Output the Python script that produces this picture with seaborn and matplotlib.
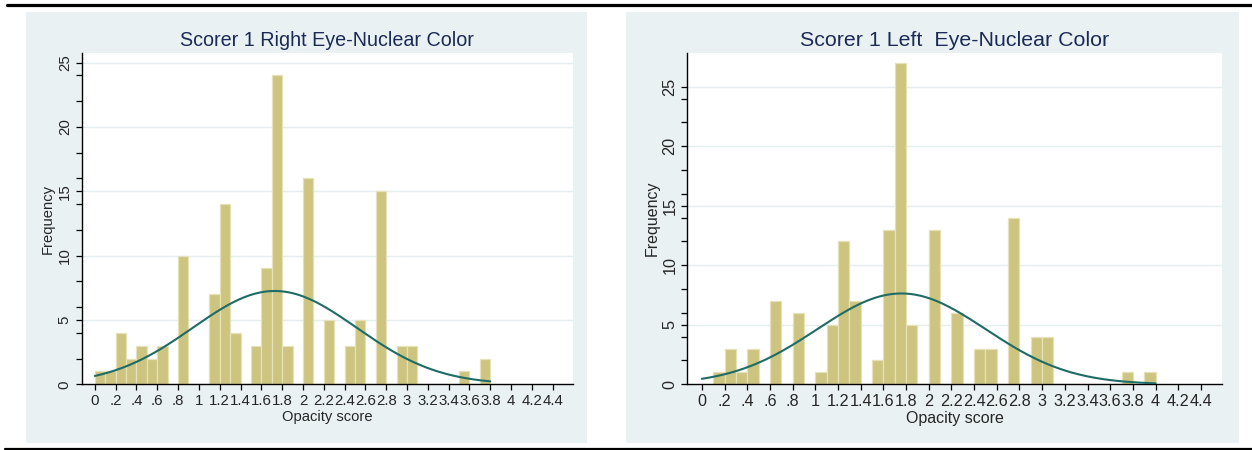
import numpy as np
import pandas as pd
import matplotlib
matplotlib.use("Agg")
import matplotlib.pyplot as plt
import seaborn as sns
from matplotlib.patches import Rectangle
from matplotlib.lines import Line2D
from matplotlib.ticker import FixedLocator

# ---------------- data ----------------
bin_width = 0.1

left_title = "Scorer 1 Right Eye-Nuclear Color"
left_starts = [0.0, 0.1, 0.2, 0.3, 0.4, 0.5, 0.6, 0.8, 1.1, 1.2, 1.3, 1.5, 1.6, 1.7,
               1.8, 2.0, 2.2, 2.4, 2.5, 2.7, 2.9, 3.0, 3.5, 3.7]
left_counts = [1, 1, 4, 2, 3, 2, 3, 10, 7, 14, 4, 3, 9, 24,
               3, 16, 5, 3, 5, 15, 3, 3, 1, 2]
left_range = (0.0, 3.8)

right_title = "Scorer 1 Left  Eye-Nuclear Color"
right_starts = [0.1, 0.2, 0.3, 0.4, 0.6, 0.8, 1.0, 1.1, 1.2, 1.3, 1.5, 1.6, 1.7,
                1.8, 2.0, 2.2, 2.4, 2.5, 2.7, 2.9, 3.0, 3.7, 3.9]
right_counts = [1, 3, 1, 3, 7, 6, 1, 5, 12, 7, 2, 13, 27,
                5, 13, 6, 3, 3, 14, 4, 4, 1, 1]
right_range = (0.0, 4.0)

xtick_values = [0, 0.2, 0.4, 0.6, 0.8, 1, 1.2, 1.4, 1.6, 1.8, 2, 2.2, 2.4, 2.6,
                2.8, 3, 3.2, 3.4, 3.6, 3.8, 4, 4.2, 4.4]
xtick_labels = ["0", ".2", ".4", ".6", ".8", "1", "1.2", "1.4", "1.6", "1.8", "2",
                "2.2", "2.4", "2.6", "2.8", "3", "3.2", "3.4", "3.6", "3.8", "4",
                "4.2", "4.4"]
ytick_values = [0, 5, 10, 15, 20, 25]
yminor_values = [2, 4, 6, 8, 12, 14, 16, 18, 22, 24]

x_label = "Opacity score"
y_label = "Frequency"

# ---------------- style ----------------
sns.set_style("white")
plt.rcParams["font.family"] = ["Liberation Sans", "DejaVu Sans"]

W, H = 1252, 450
fig = plt.figure(figsize=(W / 100, H / 100), dpi=100)
fig.patch.set_facecolor("white")

panel_bg = "#EAF1F3"
bar_color = "#CCC47F"
bar_edge = "#E6E1B8"
curve_color = "#1F6B66"
title_color = "#1C2A57"


def fx(px):
    return px / W


def fy(py):
    return 1 - py / H


# panel backgrounds
for (x0, x1) in [(26, 587), (626, 1238.5)]:
    fig.patches.append(Rectangle((fx(x0), fy(443)), fx(x1 - x0), (443 - 11.7) / H,
                                 transform=fig.transFigure, facecolor=panel_bg,
                                 edgecolor="none", zorder=-10))
# black rules
fig.add_artist(Line2D([fx(7), 1.0], [fy(5.3), fy(5.3)], color="black", lw=2.3,
                      transform=fig.transFigure))
fig.add_artist(Line2D([fx(5), 1.0], [fy(449), fy(449)], color="black", lw=1.6,
                      transform=fig.transFigure))

panels = [
    dict(title=left_title, starts=left_starts, counts=left_counts, rng=left_range,
         box=(81.5, 572.5), ylim=25.77, scale=1.0),
    dict(title=right_title, starts=right_starts, counts=right_counts, rng=right_range,
         box=(687.3, 1222.5), ylim=27.85, scale=1.087),
]

top_px, bot_px = 52.7, 384.3
for p in panels:
    x0, x1 = p["box"]
    ax = fig.add_axes([fx(x0), fy(bot_px), fx(x1 - x0), (bot_px - top_px) / H])
    ax.set_zorder(1)
    ax.set_facecolor("white")
    s = p["scale"]

    starts = np.array(p["starts"])
    counts = np.array(p["counts"])
    df = pd.DataFrame({"x": starts + bin_width / 2, "n": counts})
    lo, hi = p["rng"]

    # grid lines
    for v in ytick_values[1:]:
        ax.axhline(v, color="#E4EDEF", lw=1.0, zorder=0)

    sns.histplot(data=df, x="x", weights="n", binwidth=bin_width, binrange=(lo, hi),
                 ax=ax, stat="count", color=bar_color, edgecolor=bar_edge,
                 linewidth=0.9, alpha=1.0, zorder=2)

    # normal density overlay (fitted from the histogram)
    n_tot = counts.sum()
    mu = np.sum(df["x"] * df["n"]) / n_tot
    sd = np.sqrt(np.sum(df["n"] * (df["x"] - mu) ** 2) / (n_tot - 1))
    xs = np.linspace(lo, hi, 300)
    ys = n_tot * bin_width * np.exp(-0.5 * ((xs - mu) / sd) ** 2) / (sd * np.sqrt(2 * np.pi))
    sns.lineplot(x=xs, y=ys, ax=ax, color=curve_color, lw=1.5, zorder=3)

    ax.set_xlim(-0.128, 4.59)
    ax.set_ylim(0, p["ylim"])
    ax.set_xticks(xtick_values)
    ax.set_xticklabels(xtick_labels, fontsize=10.8 * s)
    ax.set_yticks(ytick_values)
    ax.set_yticklabels([str(v) for v in ytick_values], fontsize=10.8 * s,
                       rotation=90, va="center")
    ax.yaxis.set_minor_locator(FixedLocator(yminor_values))
    ax.tick_params(axis="both", which="both", direction="out", length=4.5, width=0.9,
                   color="black", left=True, bottom=True, pad=2.5)
    for side in ["top", "right"]:
        ax.spines[side].set_visible(False)
    for side in ["left", "bottom"]:
        ax.spines[side].set_visible(True)
        ax.spines[side].set_color("black")
        ax.spines[side].set_linewidth(1.0)
    ax.grid(False)

    ax.set_xlabel(x_label, fontsize=10.6 * s, labelpad=1.5)
    ax.set_ylabel(y_label, fontsize=10.6 * s, labelpad=2)
    ax.text(0.5, (bot_px - 40) / (bot_px - top_px), p["title"], transform=ax.transAxes,
            ha="center", va="center", fontsize=14.2 * s, color=title_color)

fig.savefig("out.png", dpi=100, facecolor="white")
